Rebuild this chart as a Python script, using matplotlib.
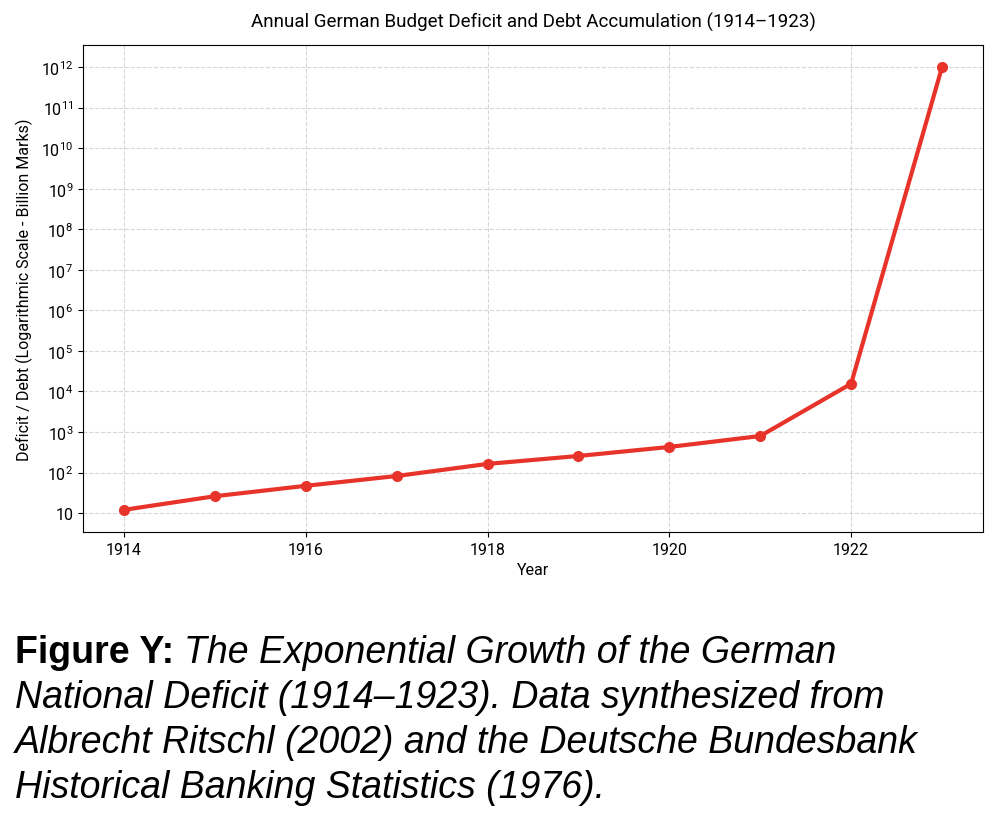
import numpy as np
import matplotlib
matplotlib.use("Agg")
import matplotlib.pyplot as plt
from matplotlib.ticker import LogLocator, FuncFormatter, MultipleLocator

plt.rcParams['font.family'] = ['Roboto', 'DejaVu Sans']
plt.rcParams['mathtext.fontset'] = 'custom'
plt.rcParams['mathtext.rm'] = 'Roboto'
plt.rcParams['mathtext.it'] = 'Roboto:italic'

# Datos (miles de millones de marcos)
years = [1914, 1915, 1916, 1917, 1918, 1919, 1920, 1921, 1922, 1923]
deficit = [12, 26, 47, 82, 163, 256, 427, 795, 15500, 1e12]

title = "Annual German Budget Deficit and Debt Accumulation (1914\u20131923)"
xlabel = "Year"
ylabel = "Deficit / Debt (Logarithmic Scale - Billion Marks)"
caption_bold = "Figure Y: "
caption_lines = ["The Exponential Growth of the German",
                 "National Deficit (1914\u20131923). Data synthesized from",
                 "Albrecht Ritschl (2002) and the Deutsche Bundesbank",
                 "Historical Banking Statistics (1976)."]


def log_label(v, pos):
    e = int(round(np.log10(v)))
    if e == 1:
        return "10"
    return r"$10^{%d}$" % e


fig = plt.figure(figsize=(9.96, 8.2), dpi=100)
ax = fig.add_axes([0.0833, 0.35, 0.9036, 0.594])

ax.plot(years, deficit, color='#e8332a', linewidth=3, marker='o', markersize=7)
ax.set_yscale('log')
ax.yaxis.set_major_locator(LogLocator(base=10, numticks=20))
ax.yaxis.set_major_formatter(FuncFormatter(log_label))
ax.yaxis.set_minor_locator(plt.NullLocator())
ax.xaxis.set_major_locator(MultipleLocator(2))

ax.grid(True, linestyle='--', color='#cccccc', linewidth=0.8, alpha=0.8)
ax.tick_params(labelsize=11.5)
ax.set_title(title, fontsize=13.5, pad=13)
ax.set_xlabel(xlabel, fontsize=11.5)
ax.set_ylabel(ylabel, fontsize=11.5, labelpad=6)

# Leyenda de la figura, línea por línea
x0 = 15 / 996
base0 = 1 - 663 / 820
pitch = 45 / 820
cap_font = dict(fontsize=27, family='Liberation Sans', va='baseline')
t_bold = fig.text(x0, base0, caption_bold, fontweight='bold', **cap_font)
renderer = fig.canvas.get_renderer()
bb = t_bold.get_window_extent(renderer=renderer)
fig.text(bb.x1 / fig.bbox.width, base0, caption_lines[0], style='italic', **cap_font)
for i, line in enumerate(caption_lines[1:], start=1):
    fig.text(x0, base0 - i * pitch, line, style='italic', **cap_font)

fig.savefig("out.png", dpi=100)
